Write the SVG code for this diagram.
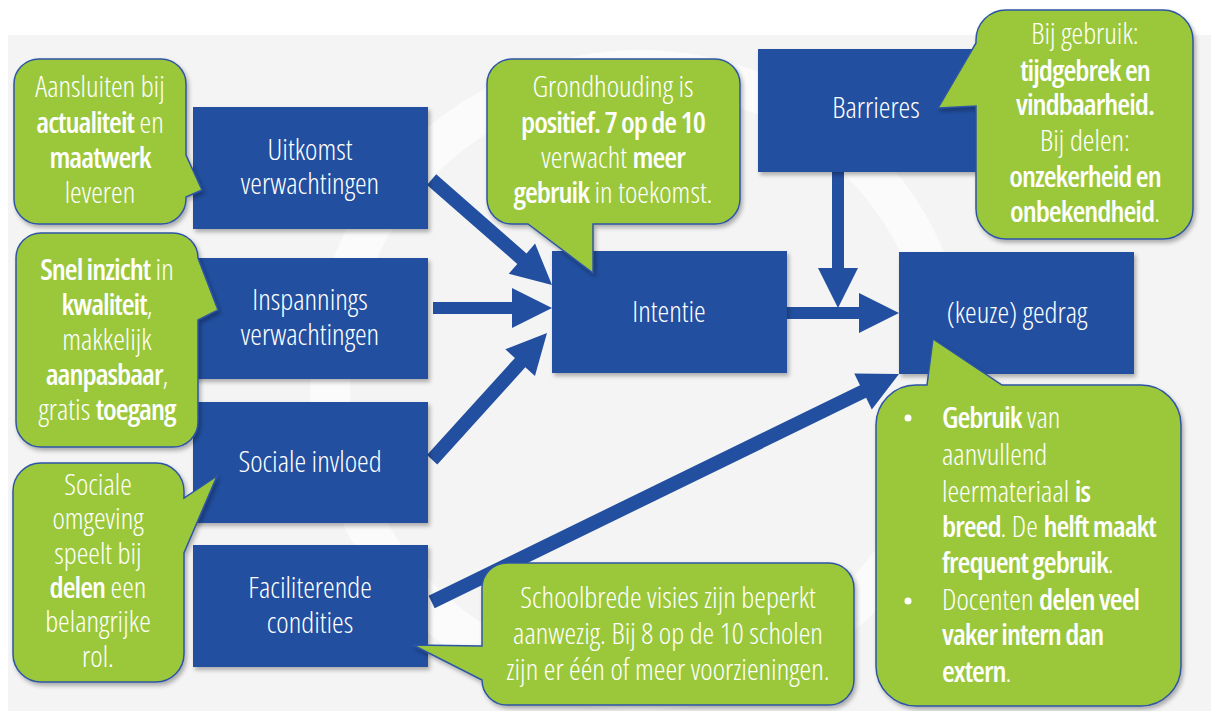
<svg xmlns="http://www.w3.org/2000/svg" width="1211" height="711" viewBox="0 0 1211 711">
<defs>
<style>
.box{fill:#234fa0;filter:url(#sh)}
.bub{fill:#9bc83b;stroke:#2e55a5;stroke-width:1.5;filter:url(#sh)}
.arr{fill:#234fa0}
text{font-family:"Open Sans","Noto Sans",sans-serif;font-stretch:condensed;font-weight:300;fill:#ffffff;font-size:29.5px}
.c{text-anchor:middle}
.b{font-weight:600;letter-spacing:-1px}
</style>
<filter id="sh" x="-10%" y="-10%" width="130%" height="130%">
<feDropShadow dx="2" dy="3" stdDeviation="2" flood-color="#000" flood-opacity="0.3"/>
</filter>
</defs>
<rect x="0" y="0" width="1211" height="711" fill="#ffffff"/>
<rect x="8" y="35" width="1203" height="676" fill="#f4f4f4"/>
<circle cx="640" cy="380" r="310" fill="none" stroke="#ffffff" stroke-width="40" opacity="0.6"/>

<g id="connectors">
<path class="arr" transform="translate(552,285) rotate(41.2)" d="M-160,-7 L-40,-7 L-40,-20 L0,0 L-40,20 L-40,7 L-160,7 Z"/>
<path class="arr" transform="translate(552,308)" d="M-119,-6 L-40,-6 L-40,-20 L0,0 L-40,20 L-40,6 L-119,6 Z"/>
<path class="arr" transform="translate(547,333) rotate(-47.8)" d="M-171,-7 L-40,-7 L-40,-20 L0,0 L-40,20 L-40,7 L-171,7 Z"/>
<path class="arr" transform="translate(899,313)" d="M-112,-6 L-40,-6 L-40,-20 L0,0 L-40,20 L-40,6 L-112,6 Z"/>
<path class="arr" transform="translate(838,308) rotate(90)" d="M-136,-6 L-40,-6 L-40,-20 L0,0 L-40,20 L-40,6 L-136,6 Z"/>
<path class="arr" transform="translate(899,374) rotate(-26)" d="M-520,-7 L-40,-7 L-40,-20 L0,0 L-40,20 L-40,7 L-520,7 Z"/>
</g>

<g id="uitkomst">
<rect class="box" x="193" y="107" width="235" height="122"/>
<text class="c" x="310" y="160">Uitkomst</text>
<text class="c" x="310" y="194">verwachtingen</text>
</g>
<g id="inspannings">
<rect class="box" x="193" y="258" width="235" height="121"/>
<text class="c" x="310" y="310">Inspannings</text>
<text class="c" x="310" y="345">verwachtingen</text>
</g>
<g id="sociale">
<rect class="box" x="193" y="402" width="235" height="121"/>
<text class="c" x="310" y="472">Sociale invloed</text>
</g>
<g id="faciliterende">
<rect class="box" x="193" y="545" width="235" height="122"/>
<text class="c" x="310" y="598">Faciliterende</text>
<text class="c" x="310" y="633">condities</text>
</g>
<g id="intentie">
<rect class="box" x="552" y="251" width="235" height="122"/>
<text class="c" x="669" y="322">Intentie</text>
</g>
<g id="barrieres">
<rect class="box" x="758" y="49" width="235" height="123"/>
<text class="c" x="876" y="118">Barrieres</text>
</g>
<g id="gedrag">
<rect class="box" x="899" y="252" width="235" height="122"/>
<text class="c" x="1017" y="323">(keuze) gedrag</text>
</g>

<g id="bubble-aansluiten">
<path class="bub" d="M39,59 H161 A25,25 0 0 1 186,84 V155 L202,190 L186,197 V199 A25,25 0 0 1 161,224 H39 A25,25 0 0 1 14,199 V84 A25,25 0 0 1 39,59 Z"/>
<text class="c" x="100" y="97">Aansluiten bij</text>
<text class="c" x="100" y="133"><tspan class="b">actualiteit</tspan> en</text>
<text class="c" x="100" y="168"><tspan class="b">maatwerk</tspan></text>
<text class="c" x="100" y="203">leveren</text>
</g>
<g id="bubble-grondhouding">
<path class="bub" d="M512,59 H715 A25,25 0 0 1 740,84 V199 A25,25 0 0 1 715,224 H593 L593,273 L528,224 H512 A25,25 0 0 1 487,199 V84 A25,25 0 0 1 512,59 Z"/>
<text class="c" x="613" y="97">Grondhouding is</text>
<text class="c" x="613" y="133"><tspan class="b">positief. 7 op de 10</tspan></text>
<text class="c" x="613" y="168">verwacht <tspan class="b">meer</tspan></text>
<text class="c" x="613" y="203"><tspan class="b">gebruik</tspan> in toekomst.</text>
</g>
<g id="bubble-barrieres">
<path class="bub" d="M1006,10 H1163 A30,30 0 0 1 1193,40 V209 A30,30 0 0 1 1163,239 H1006 A30,30 0 0 1 976,209 V106 L938,108 L976,43 V40 A30,30 0 0 1 1006,10 Z"/>
<text class="c" x="1085" y="44">Bij gebruik:</text>
<text class="c" x="1085" y="81"><tspan class="b">tijdgebrek en</tspan></text>
<text class="c" x="1085" y="115"><tspan class="b">vindbaarheid.</tspan></text>
<text class="c" x="1085" y="151">Bij delen:</text>
<text class="c" x="1085" y="187"><tspan class="b">onzekerheid en</tspan></text>
<text class="c" x="1085" y="222"><tspan class="b">onbekendheid</tspan>.</text>
</g>
<g id="bubble-snel">
<path class="bub" d="M41,233 H173 A25,25 0 0 1 198,258 L218,310 L198,320 V422 A25,25 0 0 1 173,447 H41 A25,25 0 0 1 16,422 V258 A25,25 0 0 1 41,233 Z"/>
<text class="c" x="107" y="280"><tspan class="b">Snel inzicht</tspan> in</text>
<text class="c" x="107" y="315"><tspan class="b">kwaliteit</tspan>,</text>
<text class="c" x="107" y="350">makkelijk</text>
<text class="c" x="107" y="385"><tspan class="b">aanpasbaar</tspan>,</text>
<text class="c" x="107" y="420">gratis <tspan class="b">toegang</tspan></text>
</g>
<g id="bubble-sociale">
<path class="bub" d="M41,463 H156 A28,28 0 0 1 184,491 V498 L217,476 L184,553 V654 A28,28 0 0 1 156,682 H41 A28,28 0 0 1 13,654 V491 A28,28 0 0 1 41,463 Z"/>
<text class="c" x="98" y="495">Sociale</text>
<text class="c" x="98" y="529">omgeving</text>
<text class="c" x="98" y="564">speelt bij</text>
<text class="c" x="98" y="598"><tspan class="b">delen</tspan> een</text>
<text class="c" x="98" y="632">belangrijke</text>
<text class="c" x="98" y="667">rol.</text>
</g>
<g id="bubble-schoolbrede">
<path class="bub" d="M507,563 H829 A25,25 0 0 1 854,588 V680 A25,25 0 0 1 829,705 H507 A25,25 0 0 1 482,680 L413,645 L482,646 V588 A25,25 0 0 1 507,563 Z"/>
<text class="c" x="668" y="608">Schoolbrede visies zijn beperkt</text>
<text class="c" x="668" y="644">aanwezig. Bij 8 op de 10 scholen</text>
<text class="c" x="668" y="680">zijn er één of meer voorzieningen.</text>
</g>
<g id="bubble-gebruik">
<path class="bub" d="M916,385 H927 L933,339 L1002,385 H1141 A40,40 0 0 1 1181,425 V666 A40,40 0 0 1 1141,706 H916 A40,40 0 0 1 876,666 V425 A40,40 0 0 1 916,385 Z"/>
<circle cx="908" cy="418" r="3.5" fill="#ffffff"/>
<circle cx="908" cy="601" r="3.5" fill="#ffffff"/>
<text x="942" y="428"><tspan class="b">Gebruik</tspan> van</text>
<text x="942" y="465">aanvullend</text>
<text x="942" y="502">leermateriaal <tspan class="b">is</tspan></text>
<text x="942" y="537"><tspan class="b">breed</tspan>. De <tspan class="b">helft maakt</tspan></text>
<text x="942" y="573"><tspan class="b">frequent gebruik</tspan>.</text>
<text x="942" y="610">Docenten <tspan class="b">delen veel</tspan></text>
<text x="942" y="645"><tspan class="b">vaker intern dan</tspan></text>
<text x="942" y="682"><tspan class="b">extern</tspan>.</text>
</g>
</svg>
